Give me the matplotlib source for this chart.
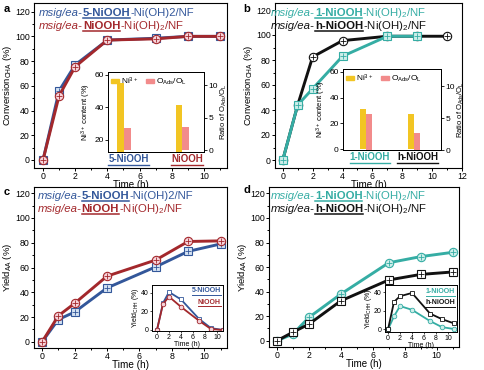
import matplotlib
matplotlib.use('Agg')
import matplotlib.pyplot as plt
from matplotlib.lines import Line2D
from matplotlib.patches import Patch
from matplotlib.ticker import MultipleLocator
import matplotlib.transforms as mtransforms

W, H = 484, 370
FAM = ['Liberation Sans', 'DejaVu Sans']
plt.rcParams['font.family'] = FAM
plt.rcParams['mathtext.fontset'] = 'custom'
plt.rcParams['mathtext.rm'] = 'Liberation Sans'
plt.rcParams['mathtext.it'] = 'Liberation Sans:italic'
plt.rcParams['mathtext.bf'] = 'Liberation Sans:bold'

# ---- data ----
t = [0, 1, 2, 4, 7, 9, 11]
t_1niooh_conv = [0, 1, 2, 4, 7, 9]
conv_5niooh = [0, 56, 77, 97, 98.5, 100, 100]
conv_niooh = [0, 52, 75.5, 97, 98, 100, 100]
conv_1niooh = [0, 44, 57, 83, 99, 99]
conv_hniooh = [0, 44, 82.5, 95.5, 99, 99, 99]
yield_5niooh = [0, 18, 24, 43.5, 60.5, 73, 79]
yield_niooh = [0, 21, 31, 53, 66, 81, 81.5]
yield_1niooh = [0, 5.5, 19, 38, 63.5, 68.5, 72]
yield_hniooh = [0, 7, 13.5, 32.5, 49.5, 54, 56]
chh_5niooh = [0, 29, 41, 33, 12, 2, 0]
chh_niooh = [0, 28, 36, 25, 10, 1, 0]
chh_1niooh = [0, 14, 25, 21, 9, 2.5, 0.5]
chh_hniooh = [0, 29.5, 35.5, 39, 17, 11, 6.5]
names_a = ['5-NiOOH', 'NiOOH']
ni3_a = [55, 41.5]
oads_a = [3.4, 3.6]
names_b = ['1-NiOOH', 'h-NiOOH']
ni3_b = [31, 27]
oads_b = [5.7, 2.6]

BLUE, BLUE_F = '#33579a', '#d4e2f2'
RED, RED_F = '#a3282c', '#f6d3da'
TEAL, TEAL_F = '#35ada4', '#cdeeea'
BLACK, BLACK_F = '#111111', 'white'
YEL, PINK = '#f2c523', '#f28b8b'

fig = plt.figure(figsize=(W / 100, H / 100), dpi=100)
rend = fig.canvas.get_renderer()


def px_axes(l, t_, r, b):
    return fig.add_axes([l / W, 1 - b / H, (r - l) / W, (b - t_) / H])


def underline(txt, color, lw=1.0, gap=2.0):
    bb = txt.get_window_extent(rend)
    y = bb.y0 - gap + 1
    fig.add_artist(Line2D([bb.x0 / W, bb.x1 / W], [y / H, y / H], color=color,
                          lw=lw, transform=fig.transFigure))


def rich(x, y, parts, size=8.2):
    # x, y: pixels from top-left, y is the baseline
    for s, color, style, weight, ul in parts:
        tx = fig.text(x / W, 1 - y / H, s, color=color, fontsize=size, style=style,
                      weight=weight, ha='left', va='baseline')
        bb = tx.get_window_extent(rend)
        if ul:
            fig.add_artist(Line2D([x / W, (x + bb.width) / W], [1 - (y + 2) / H] * 2,
                                  color=color, lw=1.1, transform=fig.transFigure))
        x += bb.width


def title_line(x, y, color, name, tail):
    rich(x, y, [('msig/ea-', color, 'italic', 'normal', False),
                (name, color, 'normal', 'bold', True),
                (tail, color, 'normal', 'normal', False)])


def curve(ax, x, y, color, face, marker, z):
    ax.plot(x, y, color=color, lw=2.1, marker=marker, ms=6, mfc=face, mec=color,
            mew=0.8, zorder=z)
    ax.plot(x, y, ls='none', marker='+', ms=4, mec=color, mew=0.6, zorder=z + 0.1)


def style_main(ax, xlim, ylim, ylabel, xmax_tick, xlab_size=7, xpad=-0.5):
    ax.set_xlim(xlim)
    ax.set_ylim(ylim)
    ax.set_yticks(range(0, 121, 20))
    ax.set_xticks(range(0, xmax_tick + 1, 2))
    ax.yaxis.set_minor_locator(MultipleLocator(10))
    ax.xaxis.set_minor_locator(MultipleLocator(1))
    ax.tick_params(which='both', direction='out', labelsize=6.3, width=0.7, pad=1)
    ax.tick_params(which='major', length=2)
    ax.tick_params(which='minor', length=1.2)
    ax.set_xlabel('Time (h)', fontsize=xlab_size, labelpad=xpad)
    ax.set_ylabel(ylabel, fontsize=6.8, labelpad=0.5)
    for s in ax.spines.values():
        s.set_linewidth(0.8)


def bar_inset(ax, names, ni3, oads, colors, xlim, ylim_l, ylim_r, yticks_l, w):
    xs = list(range(len(names)))
    ax.bar([i - w / 2 for i in xs], ni3, width=w, color=YEL)
    ax.set_xlim(xlim)
    ax.set_ylim(ylim_l)
    ax.set_xticks([])
    ax.set_yticks(yticks_l)
    ax.tick_params(labelsize=6, length=2, width=0.6, pad=1)
    ax.set_ylabel('Ni$^{3+}$ content (%)', fontsize=5.5, labelpad=1)
    ax2 = ax.twinx()
    ax2.bar([i + w / 2 for i in xs], oads, width=w, color=PINK)
    ax2.set_ylim(ylim_r)
    ax2.set_yticks([0, 5, 10])
    ax2.tick_params(labelsize=6, length=2, width=0.6, pad=1)
    ax2.set_ylabel('Ratio of O$_{\\mathrm{Ads}}$/O$_{\\mathrm{L}}$', fontsize=5.5, labelpad=1)
    for a in (ax, ax2):
        for s in a.spines.values():
            s.set_linewidth(0.7)
    ax2.legend([Patch(color=YEL), Patch(color=PINK)],
               ['Ni$^{3+}$', 'O$_{\\mathrm{Ads}}$/O$_{\\mathrm{L}}$'],
               loc='upper left', ncol=2, frameon=False, fontsize=6,
               handlelength=0.9, handleheight=0.45, handletextpad=0.3,
               columnspacing=0.9, borderaxespad=0.2, borderpad=0.2)
    tr = mtransforms.blended_transform_factory(ax.transData, ax.transAxes)
    for i, (nm, c) in enumerate(zip(names, colors)):
        tx = ax.text(i + 0.08, -0.02, nm, transform=tr, ha='center', va='top',
                     fontsize=7, weight='bold', color=c)
        underline(tx, c, lw=1.0)


def line_inset(ax, series, xlim, ylim):
    for y, c, f, m in series:
        ax.plot(t, y, color=c, lw=1.3, marker=m, ms=3.3, mfc=f, mec=c, mew=0.6)
    ax.set_xlim(xlim)
    ax.set_ylim(ylim)
    ax.set_xticks(range(0, 11, 2))
    ax.set_yticks([0, 20, 40])
    ax.tick_params(labelsize=5, length=1.5, width=0.5, pad=1)
    ax.set_xlabel('Time (h)', fontsize=5, labelpad=0)
    ax.set_ylabel('Yield$_{\\mathrm{CHH}}$ (%)', fontsize=5, labelpad=0)
    for s in ax.spines.values():
        s.set_linewidth(0.7)


# ---- panel a ----
ax_a = px_axes(34, 3, 227, 168)
curve(ax_a, t, conv_5niooh, BLUE, BLUE_F, 's', 3)
curve(ax_a, t, conv_niooh, RED, RED_F, 'o', 4)
style_main(ax_a, (-0.56, 11.43), (-6.5, 127), 'Conversion$_{\\mathrm{CHA}}$ (%)', 10)

# ---- panel b ----
ax_b = px_axes(275, 3, 462, 168)
curve(ax_b, t, conv_hniooh, BLACK, BLACK_F, 'o', 3)
curve(ax_b, t_1niooh_conv, conv_1niooh, TEAL, TEAL_F, 's', 4)
style_main(ax_b, (-0.52, 12), (-6.4, 125.6), 'Conversion$_{\\mathrm{CHA}}$ (%)', 12)

# ---- panel c ----
ax_c = px_axes(34, 187, 227, 348)
curve(ax_c, t, yield_5niooh, BLUE, BLUE_F, 's', 3)
curve(ax_c, t, yield_niooh, RED, RED_F, 'o', 4)
style_main(ax_c, (-0.5, 11.4), (-5, 125), 'Yield$_{\\mathrm{AA}}$ (%)', 10,
           xlab_size=7.2, xpad=-0.8)

# ---- panel d ----
ax_d = px_axes(269, 187, 459, 347)
curve(ax_d, t, yield_1niooh, TEAL, TEAL_F, 'o', 3)
curve(ax_d, t, yield_hniooh, BLACK, BLACK_F, 's', 4)
style_main(ax_d, (-0.5, 11.4), (-5.1, 125.2), 'Yield$_{\\mathrm{AA}}$ (%)', 10)

# ---- insets ----
ia = px_axes(108, 72, 204, 152)
bar_inset(ia, names_a, ni3_a, oads_a, [BLUE, RED], (-0.27, 1.37), (12.6, 61.8),
          (-0.25, 12), [20, 40, 60], 0.115)
ib = px_axes(343, 69, 441, 150)
bar_inset(ib, names_b, ni3_b, oads_b, [TEAL, BLACK], (-0.48, 1.57), (-0.5, 62),
          (0, 12.7), [0, 20, 40, 60], 0.13)

ic = px_axes(152, 285, 223, 331)
line_inset(ic, [(chh_5niooh, BLUE, 'white', 's'), (chh_niooh, RED, RED_F, 'o')],
           (-0.83, 11), (-1.1, 48.6))
for y, nm, c in [(0.88, '5-NiOOH', BLUE), (0.62, 'NiOOH', RED)]:
    tx = ic.text(0.97, y, nm, transform=ic.transAxes, ha='right', va='center',
                 fontsize=5, weight='bold', color=c)
    underline(tx, c, lw=0.7, gap=1.5)

idd = px_axes(385, 285, 457, 332)
line_inset(idd, [(chh_1niooh, TEAL, TEAL_F, 'o'), (chh_hniooh, BLACK, 'white', 's')],
           (-0.5, 11.5), (-2.7, 47.5))
for y, nm, c in [(0.86, '1-NiOOH', TEAL), (0.62, 'h-NiOOH', BLACK)]:
    tx = idd.text(0.97, y, nm, transform=idd.transAxes, ha='right', va='center',
                  fontsize=5, weight='bold', color=c)
    underline(tx, c, lw=0.7, gap=1.5)

# ---- titles and panel letters ----
title_line(39, 16, BLUE, '5-NiOOH', '-Ni(OH)2/NF')
title_line(39, 29, RED, 'NiOOH', '-Ni(OH)$_2$/NF')
title_line(271, 16, TEAL, '1-NiOOH', '-Ni(OH)$_2$/NF')
title_line(271, 29, BLACK, 'h-NiOOH', '-Ni(OH)$_2$/NF')
title_line(38, 199, BLUE, '5-NiOOH', '-Ni(OH)2/NF')
title_line(38, 211.5, RED, 'NiOOH', '-Ni(OH)$_2$/NF')
title_line(271, 199, TEAL, '1-NiOOH', '-Ni(OH)$_2$/NF')
title_line(271, 212, BLACK, 'h-NiOOH', '-Ni(OH)$_2$/NF')

for x, y, s in [(4, 12, 'a'), (243, 12, 'b'), (4, 195, 'c'), (243, 193, 'd')]:
    fig.text(x / W, 1 - y / H, s, fontsize=8, weight='bold', va='baseline')

fig.savefig('out.png', dpi=100)
